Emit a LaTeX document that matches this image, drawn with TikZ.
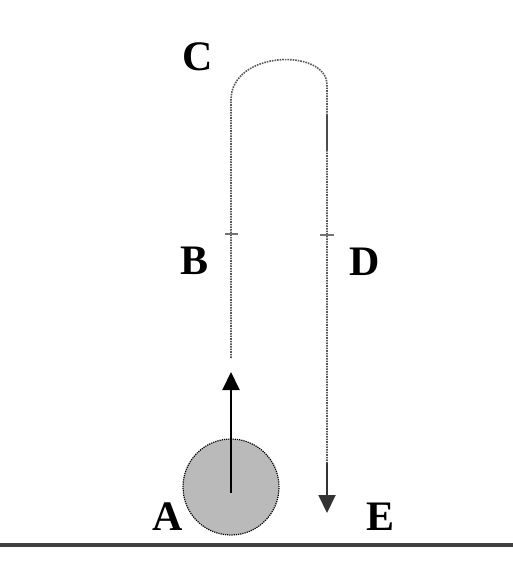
\documentclass[tikz,border=0pt]{standalone}
\usepackage{fontspec}
\setmainfont{Liberation Serif}
\usetikzlibrary{arrows.meta}
\begin{document}
\begin{tikzpicture}[x=1pt,y=-1pt,
  lbl/.style={font=\fontsize{42}{42}\selectfont\bfseries, inner sep=0pt},
  trail/.style={draw=black!65, line width=1.6pt, densely dotted},
  tick/.style={draw=black!55, line width=1.4pt},
  move/.style={draw=black, line width=2pt, -{Triangle[length=18pt,width=17pt]}}]
\useasboundingbox (0,0) rectangle (513,570);
% ground
\draw[draw=black!75, line width=4pt] (0,545) -- (513,545);
% ball
\node[circle, minimum size=96pt, inner sep=0pt, fill=black!27, draw=black, densely dotted, line width=1.2pt] (ball) at (231,487) {};
% trail coordinates
\coordinate (b0) at (231,358);
\coordinate (b1) at (231,100);
\coordinate (d1) at (327,85);
\coordinate (d0) at (327,463);
\coordinate (e) at (327,513);
\draw[trail] (b0) -- (b1) .. controls (231,50) and (327,48) .. (d1) -- (d0);
\draw[draw=black!70, line width=1.6pt] (327,115) -- (327,150);
% ticks
\draw[tick] (225,234) -- (238,234);
\draw[tick] (320,235) -- (334,235);
% arrows
\coordinate (a0) at (231,493);
\coordinate (a1) at (231,372);
\draw[move] (a0) -- (a1);
\draw[move, draw=black!80] (d0) -- (e);
% labels
\node[lbl] (C) at (198,57) {C};
\node[lbl] (B) at (195,261) {B};
\node[lbl] (D) at (365,262) {D};
\node[lbl] (A) at (168,517) {A};
\node[lbl] (E) at (381,517) {E};
\end{tikzpicture}
\end{document}
